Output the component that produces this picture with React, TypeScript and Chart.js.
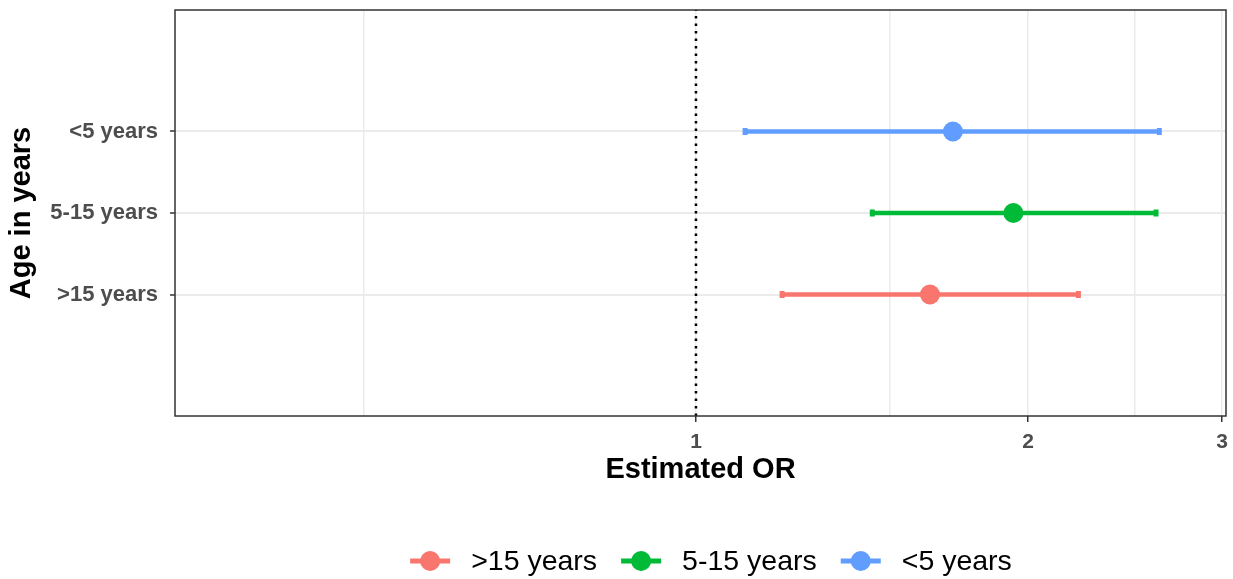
import React, { useEffect, useRef } from 'react';
import { Chart, registerables } from 'chart.js';

Chart.register(...registerables);

// ---- data ----
const categories = ['>15 years', '5-15 years', '<5 years'];
const estimates = [1.63, 1.94, 1.71];
const lowerCI = [1.197, 1.445, 1.108];
const upperCI = [2.222, 2.613, 2.631];
const colors = ['#F8766D', '#00BA38', '#619CFF'];
const xMajorTicks = [1, 2, 3];
const xMinorTicks = [0.5, 1.5, 2.5];
const referenceOR = 1;
const xMin = 0.337;
const xMax = 3.024;
const yMin = -0.49;
const yMax = 4.49;

const FONT = '"Liberation Sans", Arial, Helvetica, sans-serif';

const panelBorder = {
  id: 'panelBorder',
  afterDraw(chart: any) {
    const { ctx, chartArea } = chart;
    ctx.save();
    ctx.strokeStyle = '#333333';
    ctx.lineWidth = 1.5;
    ctx.strokeRect(chartArea.left, chartArea.top, chartArea.right - chartArea.left, chartArea.bottom - chartArea.top);
    ctx.restore();
  },
};

const customLegend = {
  id: 'customLegend',
  afterDraw(chart: any) {
    const { ctx } = chart;
    ctx.save();
    ctx.font = `28.5px ${FONT}`;
    const symW = 40;
    const gap = 21;
    const itemGap = 24;
    const widths = categories.map((c) => ctx.measureText(c).width);
    const total = widths.reduce((a, w) => a + symW + gap + w, 0) + itemGap * (categories.length - 1);
    const centerX = 711;
    const cy = 561;
    let x = centerX - total / 2;
    categories.forEach((c, i) => {
      ctx.strokeStyle = colors[i];
      ctx.lineWidth = 5;
      ctx.beginPath();
      ctx.moveTo(x, cy);
      ctx.lineTo(x + symW, cy);
      ctx.stroke();
      ctx.fillStyle = colors[i];
      ctx.beginPath();
      ctx.arc(x + symW / 2, cy, 10, 0, Math.PI * 2);
      ctx.fill();
      ctx.fillStyle = '#000000';
      ctx.textBaseline = 'middle';
      ctx.textAlign = 'left';
      ctx.fillText(c, x + symW + gap, cy + 1);
      x += symW + gap + widths[i] + itemGap;
    });
    ctx.restore();
  },
};

export default function App() {
  const ref = useRef<HTMLCanvasElement>(null);

  useEffect(() => {
    document.body.style.margin = '0';
    const datasets: any[] = [];
    datasets.push({
      label: 'ref',
      data: [
        { x: referenceOR, y: yMin },
        { x: referenceOR, y: yMax },
      ],
      showLine: true,
      borderColor: '#000000',
      borderWidth: 2.5,
      borderDash: [2.5, 5],
      pointRadius: 0,
    });
    categories.forEach((c, i) => {
      datasets.push({
        label: c + ' CI',
        data: [
          { x: lowerCI[i], y: i + 1 },
          { x: upperCI[i], y: i + 1 },
        ],
        showLine: true,
        borderColor: colors[i],
        borderWidth: 4.5,
        pointStyle: 'line',
        pointRotation: 90,
        pointRadius: 3.5,
        pointBorderWidth: 5,
        pointBorderColor: colors[i],
        pointBackgroundColor: colors[i],
      });
    });
    categories.forEach((c, i) => {
      datasets.push({
        label: c,
        data: [{ x: estimates[i], y: i + 1 }],
        pointRadius: 10,
        pointBorderWidth: 0,
        backgroundColor: colors[i],
        borderColor: colors[i],
      });
    });

    const majorSet = new Set(xMajorTicks);

    const chart = new Chart(ref.current!, {
      type: 'scatter',
      data: { datasets },
      plugins: [panelBorder, customLegend],
      options: {
        animation: false,
        responsive: false,
        events: [],
        layout: { autoPadding: false, padding: { top: 10, right: 7, bottom: 92, left: 0 } },
        plugins: {
          legend: { display: false },
          tooltip: { enabled: false },
        },
        scales: {
          x: {
            type: 'logarithmic',
            bounds: 'data',
            min: xMin,
            max: xMax,
            afterBuildTicks: (s: any) => {
              s.min = xMin;
              s.max = xMax;
              s.ticks = [...xMinorTicks, ...xMajorTicks].sort((a, b) => a - b).map((v) => ({ value: v }));
            },
            afterFit: (s: any) => {
              s.height = 71;
              s.paddingLeft = 0;
              s.paddingRight = 0;
            },
            ticks: {
              autoSkip: false,
              maxRotation: 0,
              padding: 8,
              color: '#4D4D4D',
              font: { family: FONT, size: 21, weight: 'bold' },
              callback: (v: any) => (majorSet.has(Number(v)) ? String(v) : ''),
            },
            grid: {
              color: '#EBEBEB',
              lineWidth: 1.5,
              drawTicks: true,
              tickLength: 6,
              tickWidth: 1.5,
              tickColor: (ctx: any) => (ctx.tick && majorSet.has(ctx.tick.value) ? '#333333' : 'rgba(0,0,0,0)'),
            },
            border: { display: false },
            title: {
              display: true,
              text: 'Estimated OR',
              color: '#000000',
              font: { family: FONT, size: 29, weight: 'bold' },
              padding: { top: 0, bottom: 0 },
            },
          },
          y: {
            type: 'linear',
            min: yMin,
            max: yMax,
            afterBuildTicks: (s: any) => {
              s.ticks = categories.map((_, i) => ({ value: i + 1 }));
            },
            afterFit: (s: any) => {
              s.width = 175;
              s.paddingTop = 0;
              s.paddingBottom = 0;
            },
            ticks: {
              autoSkip: false,
              padding: 12,
              color: '#4D4D4D',
              font: { family: FONT, size: 22, weight: 'bold' },
              callback: (v: any) => categories[Number(v) - 1] ?? '',
            },
            grid: {
              color: '#EBEBEB',
              lineWidth: 2,
              drawTicks: true,
              tickLength: 5,
              tickWidth: 1.5,
              tickColor: '#333333',
            },
            border: { display: false },
            title: {
              display: true,
              text: 'Age in years',
              color: '#000000',
              font: { family: FONT, size: 29, weight: 'bold' },
              padding: { top: 5, bottom: 0 },
            },
          },
        },
      } as any,
    });
    return () => chart.destroy();
  }, []);

  return (
    <div style={{ width: 1233, height: 579, background: '#ffffff' }}>
      <canvas ref={ref} width={1233} height={579} />
    </div>
  );
}
